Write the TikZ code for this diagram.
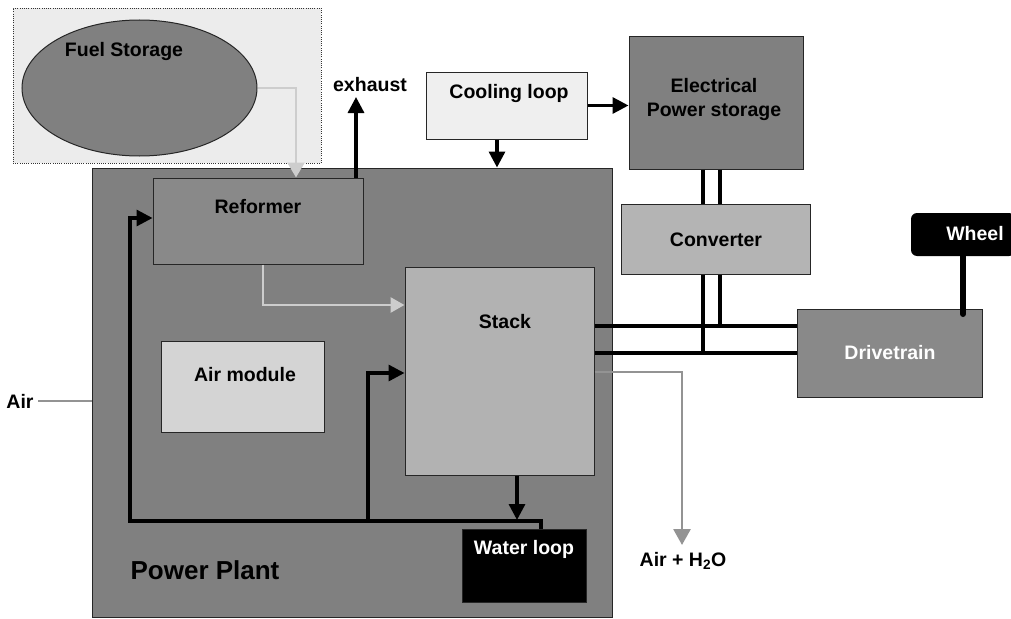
\documentclass[tikz,border=0pt]{standalone}
\usepackage{fontspec}
\setmainfont{Liberation Sans}
\usetikzlibrary{arrows.meta,shapes.geometric}
\definecolor{fuelbg}{HTML}{ECECEC}
\definecolor{midgray}{HTML}{808080}
\definecolor{refgray}{HTML}{898989}
\definecolor{coolgray}{HTML}{EFEFEF}
\definecolor{convgray}{HTML}{B4B4B4}
\definecolor{stackgray}{HTML}{B2B2B2}
\definecolor{airgray}{HTML}{D4D4D4}
\definecolor{lightline}{HTML}{CDCDCD}
\definecolor{outline}{HTML}{939393}
\begin{document}
\begin{tikzpicture}[x=1pt,y=-1pt,
  font=\bfseries\fontsize{19.5}{24}\selectfont,
  box/.style={draw=black!85,line width=1pt,inner sep=0pt},
  txt/.style={inner sep=0pt,align=center},
  bl/.style={draw=black,line width=3.3pt},
  tip/.style={-{Triangle[length=16pt,width=16pt]}},
  lg/.style={draw=lightline,line width=2.8pt},
  og/.style={draw=outline,line width=2.8pt}]
\useasboundingbox (0,0) rectangle (1011,618);
% boxes
\node[box,fill=midgray,minimum width=520,minimum height=449] (plant) at (352,392.5) {};
\node[draw=black!80,line width=0.8pt,dash pattern=on 1pt off 1.2pt,fill=fuelbg,inner sep=0pt,minimum width=308,minimum height=155] (fuelbox) at (167,85.5) {};
\node[ellipse,box,fill=midgray,minimum width=235,minimum height=136] (fuel) at (139.5,88) {};
\node[box,fill=refgray,minimum width=210,minimum height=86] (reformer) at (258,221) {};
\node[box,fill=coolgray,minimum width=161,minimum height=67] (cooling) at (506.5,105.5) {};
\node[box,fill=midgray,minimum width=174,minimum height=132] (elec) at (716,103) {};
\node[box,fill=convgray,minimum width=189,minimum height=70] (conv) at (715.5,239) {};
\node[box,fill=stackgray,minimum width=189,minimum height=208] (stack) at (499.5,371) {};
\node[box,fill=airgray,minimum width=163,minimum height=91] (airmod) at (242.5,386.5) {};
\node[box,fill=black,minimum width=124,minimum height=73] (water) at (524,565.5) {};
\node[box,fill=refgray,minimum width=185,minimum height=88] (drive) at (889.5,353) {};
\node[fill=black,rounded corners=6pt,inner sep=0pt,minimum width=104,minimum height=43] (wheel) at (963,234.5) {};
% texts
\node[txt] (tfuel) at (124,52) {Fuel Storage};
\node[txt] (texh) at (370,85) {exhaust};
\node[txt] (tref) at (258,207) {Reformer};
\node[txt] (tcool) at (509,94) {Cooling loop};
\node[txt] (telec) at (714,100) {Electrical\\Power storage};
\node[txt] (tconv) at (716,240) {Converter};
\node[txt] (tstack) at (505,322) {Stack};
\node[txt] (tair) at (245,375) {Air module};
\node[txt,text=white] (twater) at (524,549) {Water loop};
\node[txt,text=white] (tdrive) at (890,353) {Drivetrain};
\node[txt,text=white] (twheel) at (975,234) {Wheel};
\node[txt,font=\bfseries\fontsize{26}{30}\selectfont] (tplant) at (205,570) {Power Plant};
\node[txt] (tairin) at (20,401) {Air};
\node[txt] (th2o) at (683,561) {Air + H\textsubscript{2}O};
% coordinates
\coordinate (exhtip) at (356,97);
\coordinate (airtip) at (682,545);
\coordinate (airstart) at (38,401);
\coordinate (watertip) at (517,520);
\coordinate (wheelend) at (963,314);
% connectors
\draw[lg,-{Triangle[length=15pt,width=17pt]},color=lightline] (fuel.east) -| (reformer.north -| 296,0);
\draw[bl,tip] (reformer.north -| exhtip) -- (exhtip);
\draw[lg,-{Triangle[length=14pt,width=15pt]},color=lightline] (reformer.south -| 263,0) |- (stack.west |- 0,305);
\draw[bl,tip] (cooling.east) -- (cooling.east -| elec.west);
\draw[bl,tip] (cooling.south -| 497,0) -- (plant.north -| 497,0);
\draw[bl] (elec.south -| 703,0) -- (conv.north -| 703,0);
\draw[bl] (elec.south -| 720,0) -- (conv.north -| 720,0);
\draw[bl] (conv.south -| 703,0) -- (703,353);
\draw[bl] (conv.south -| 720,0) -- (720,326);
\draw[bl] (stack.east |- 0,326) -- (drive.west |- 0,326);
\draw[bl] (stack.east |- 0,353) -- (drive.west |- 0,353);
\draw[og,-{Triangle[length=16pt,width=17pt]},color=outline] (stack.east |- 0,372) -| (airtip);
\draw[og,line width=2.4pt] (airstart) -- (plant.west |- airstart);
\draw[line width=6pt,line cap=round] (wheel.south) -- (wheelend);
\draw[bl,tip] (stack.south -| watertip) -- (watertip);
\draw[bl,tip] (water.north -| 541,0) |- (130,521) |- (reformer.west |- 0,218);
\draw[bl,tip] (368,521) |- (stack.west |- 0,373);
\end{tikzpicture}
\end{document}
